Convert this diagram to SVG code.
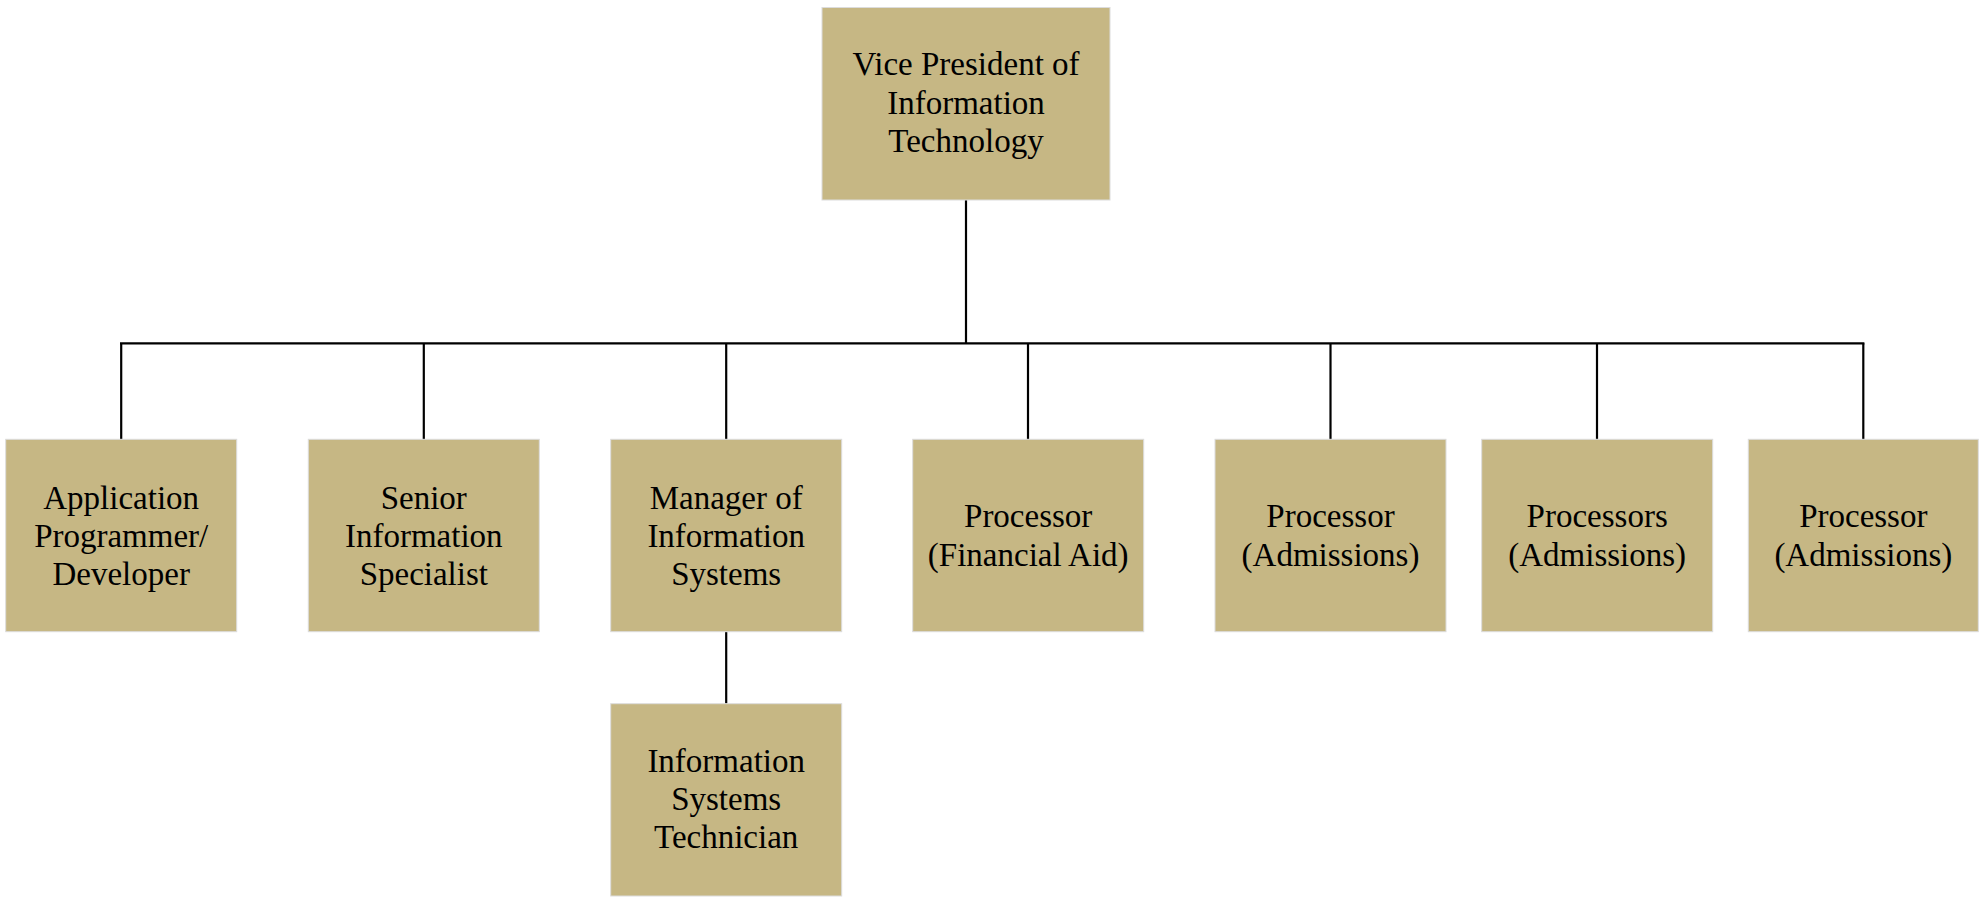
<svg xmlns="http://www.w3.org/2000/svg" width="1986" height="898" viewBox="0 0 1986 898">
<style>
.box{fill:#C6B784;stroke:#DCDCDC;stroke-width:1}
.lbl{font-family:"Liberation Serif","Times New Roman",serif;font-size:33px;fill:#000;text-anchor:middle}
.conn{stroke:#000;stroke-width:2.2;fill:none}
</style>
<rect width="1986" height="898" fill="#fff"/>
<g id="connectors">
<line class="conn" x1="966" y1="200" x2="966" y2="343.3"/>
<line class="conn" x1="120" y1="343.3" x2="1864.4" y2="343.3"/>
<line class="conn" x1="121.2" y1="343.3" x2="121.2" y2="439.5"/>
<line class="conn" x1="423.8" y1="343.3" x2="423.8" y2="439.5"/>
<line class="conn" x1="726.2" y1="343.3" x2="726.2" y2="439.5"/>
<line class="conn" x1="1028" y1="343.3" x2="1028" y2="439.5"/>
<line class="conn" x1="1330.5" y1="343.3" x2="1330.5" y2="439.5"/>
<line class="conn" x1="1597" y1="343.3" x2="1597" y2="439.5"/>
<line class="conn" x1="1863.3" y1="343.3" x2="1863.3" y2="439.5"/>
<line class="conn" x1="726.2" y1="631.7" x2="726.2" y2="703.7"/>
</g>
<g id="vp">
<rect class="box" x="822" y="7.5" width="288" height="192.5"/>
<text class="lbl" x="966" y="75">Vice President of</text>
<text class="lbl" x="966" y="113.5">Information</text>
<text class="lbl" x="966" y="152">Technology</text>
</g>
<g id="app-programmer">
<rect class="box" x="5.7" y="439.3" width="231" height="192.4"/>
<text class="lbl" x="121.2" y="508.5">Application</text>
<text class="lbl" x="121.2" y="546.7">Programmer/</text>
<text class="lbl" x="121.2" y="585">Developer</text>
</g>
<g id="senior-specialist">
<rect class="box" x="308.3" y="439.3" width="231" height="192.4"/>
<text class="lbl" x="423.8" y="508.5">Senior</text>
<text class="lbl" x="423.8" y="546.7">Information</text>
<text class="lbl" x="423.8" y="585">Specialist</text>
</g>
<g id="manager-is">
<rect class="box" x="610.7" y="439.3" width="231" height="192.4"/>
<text class="lbl" x="726.2" y="508.5">Manager of</text>
<text class="lbl" x="726.2" y="546.7">Information</text>
<text class="lbl" x="726.2" y="585">Systems</text>
</g>
<g id="processor-fa">
<rect class="box" x="912.7" y="439.3" width="231" height="192.4"/>
<text class="lbl" x="1028.2" y="527">Processor</text>
<text class="lbl" x="1028.2" y="565.5">(Financial Aid)</text>
</g>
<g id="processor-adm1">
<rect class="box" x="1215" y="439.3" width="231" height="192.4"/>
<text class="lbl" x="1330.5" y="527">Processor</text>
<text class="lbl" x="1330.5" y="565.5">(Admissions)</text>
</g>
<g id="processors-adm">
<rect class="box" x="1481.7" y="439.3" width="231" height="192.4"/>
<text class="lbl" x="1597.2" y="527">Processors</text>
<text class="lbl" x="1597.2" y="565.5">(Admissions)</text>
</g>
<g id="processor-adm2">
<rect class="box" x="1748.3" y="439.3" width="230" height="192.4"/>
<text class="lbl" x="1863.3" y="527">Processor</text>
<text class="lbl" x="1863.3" y="565.5">(Admissions)</text>
</g>
<g id="is-technician">
<rect class="box" x="610.7" y="703.7" width="231" height="192.3"/>
<text class="lbl" x="726.2" y="771.7">Information</text>
<text class="lbl" x="726.2" y="810">Systems</text>
<text class="lbl" x="726.2" y="848.3">Technician</text>
</g>
</svg>
